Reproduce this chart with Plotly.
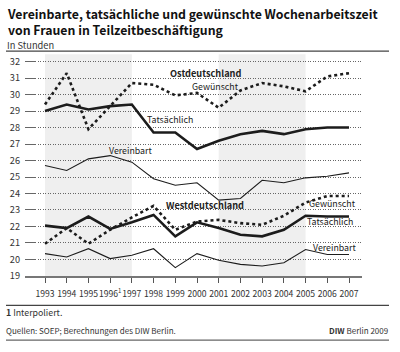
import plotly.graph_objects as go

years = [1993, 1994, 1995, 1996, 1997, 1998, 1999, 2000, 2001, 2002, 2003, 2004, 2005, 2006, 2007]
year_labels = ["1993", "1994", "1995", "1996<sup>1</sup>", "1997", "1998", "1999", "2000",
               "2001", "2002", "2003", "2004", "2005", "2006", "2007"]
y_ticks = [19, 20, 21, 22, 23, 24, 25, 26, 27, 28, 29, 30, 31, 32]

ost_gewuenscht = [29.4, 31.3, 27.9, 29.3, 30.7, 30.6, 29.95, 30.1, 29.2, 30.25, 30.7, 30.5, 30.2, 31.1, 31.3]
ost_tatsaechlich = [29.0, 29.4, 29.1, 29.3, 29.4, 27.7, 27.7, 26.7, 27.2, 27.6, 27.8, 27.6, 27.9, 28.0, 28.0]
ost_vereinbart = [25.7, 25.4, 26.1, 26.3, 25.9, 24.9, 24.5, 24.65, 23.6, 23.7, 24.8, 24.65, 24.95, 25.05, 25.25]
west_gewuenscht = [20.95, 21.9, 20.95, 21.8, 22.55, 23.25, 21.8, 22.3, 22.4, 22.2, 22.1, 22.65, 23.45, 23.85, 23.85]
west_tatsaechlich = [22.05, 21.9, 22.6, 21.85, 22.25, 22.7, 21.4, 22.25, 21.9, 21.5, 21.4, 21.8, 22.65, 22.6, 22.6]
west_vereinbart = [20.35, 20.15, 20.65, 20.05, 20.25, 20.65, 19.5, 20.35, 19.95, 19.7, 19.6, 19.8, 20.6, 20.3, 20.3]

shade_periods = [(1993, 1997), (2001, 2005)]

FONT = "Noto Sans CJK SC, Liberation Sans, sans-serif"
INK = "#1c1c1c"

fig = go.Figure()

series = [
    (ost_gewuenscht, "dot", 2.6),
    (ost_tatsaechlich, "solid", 2.6),
    (ost_vereinbart, "solid", 1.1),
    (west_gewuenscht, "dot", 2.6),
    (west_tatsaechlich, "solid", 2.6),
    (west_vereinbart, "solid", 1.1),
]
for vals, dash, w in series:
    fig.add_trace(go.Scatter(x=years, y=vals, mode="lines",
                             line=dict(color=INK, width=w, dash=dash),
                             showlegend=False, hoverinfo="skip"))

for a, b in shade_periods:
    fig.add_shape(type="rect", xref="x", yref="y", x0=a, x1=b, y0=19, y1=32.45,
                  fillcolor="#efefef", line=dict(width=0), layer="below")

W, H = 400, 352
x_lo = 1993 - 20 / 21.714
x_hi = 2007 + 13 / 21.714
y_lo = 19
y_hi = 32 + (280.7 - 13 * 16.77 - 55) / 16.77

labels = [
    ("Ostdeutschland", 2000.37, 31.33, True),
    ("Gewünscht", 2000.87, 30.47, False),
    ("Tatsächlich", 1998.76, 28.48, False),
    ("Vereinbart", 1996.96, 26.63, False),
    ("Westdeutschland", 2000.35, 23.32, True),
    ("Gewünscht", 2006.26, 23.41, False),
    ("Tatsächlich", 2006.12, 22.32, False),
    ("Vereinbart", 2006.31, 20.73, False),
]
for txt, lx, ly, bold in labels:
    fig.add_annotation(x=lx, y=ly, xref="x", yref="y", showarrow=False, borderpad=0,
                       text=f"<b>{txt}</b>" if bold else txt,
                       font=dict(family=FONT, size=9.2 if bold else 8.8, color="#222"),
                       xanchor="center", yanchor="middle")

def py(p):
    return 1 - p / H

def px(p):
    return p / W

fig.add_annotation(x=px(6), y=py(4), xref="paper", yref="paper", showarrow=False, borderpad=0,
                   text="<b>Vereinbarte, tatsächliche und gewünschte Wochenarbeitszeit</b><br>"
                        "<b>von Frauen in Teilzeitbeschäftigung</b>",
                   font=dict(family=FONT, size=12.3, color="#111"), align="left",
                   xanchor="left", yanchor="top")
fig.add_annotation(x=px(6), y=py(45.5), xref="paper", yref="paper", showarrow=False, borderpad=0,
                   text="In Stunden", font=dict(family=FONT, size=9.3, color="#333"),
                   xanchor="left", yanchor="middle")
fig.add_annotation(x=px(5), y=py(318), xref="paper", yref="paper", showarrow=False, borderpad=0,
                   text="<b>1</b> Interpoliert.", font=dict(family=FONT, size=8.8, color="#333"),
                   xanchor="left", yanchor="middle")
fig.add_annotation(x=px(5), y=py(336), xref="paper", yref="paper", showarrow=False, borderpad=0,
                   text="Quellen: SOEP; Berechnungen des DIW Berlin.",
                   font=dict(family=FONT, size=8, color="#333"), xanchor="left", yanchor="middle")
fig.add_annotation(x=px(389), y=py(336), xref="paper", yref="paper", showarrow=False, borderpad=0,
                   text="<b>DIW</b> Berlin 2009", font=dict(family=FONT, size=8, color="#333"),
                   xanchor="right", yanchor="middle")

for yy, col in [(52, "#444"), (310.7, "#444"), (346, "#666")]:
    fig.add_shape(type="line", xref="paper", yref="paper", x0=px(6), x1=px(389),
                  y0=py(yy), y1=py(yy), line=dict(color=col, width=1.2))

fig.update_layout(
    width=W, height=H,
    margin=dict(l=0, r=0, t=0, b=0),
    paper_bgcolor="white", plot_bgcolor="white",
    xaxis=dict(domain=[px(25), px(362)], range=[x_lo, x_hi],
               tickmode="array", tickvals=years, ticktext=year_labels, tickangle=0,
               ticks="outside", ticklen=5, tickcolor="#555", tickwidth=1,
               ticklabelstandoff=4,
               showline=True, linecolor="#777", linewidth=1.5,
               showgrid=False, zeroline=False,
               tickfont=dict(family=FONT, size=8.6, color="#333")),
    yaxis=dict(domain=[py(280.7), py(55)], range=[y_lo, y_hi],
               tickmode="array", tickvals=y_ticks,
               ticks="inside", ticklen=10, tickcolor="#666", tickwidth=1,
               ticklabelstandoff=4,
               showgrid=True, gridcolor="#666", gridwidth=1, griddash="1px,1.5px",
               showline=False, zeroline=False,
               tickfont=dict(family=FONT, size=9.2, color="#333")),
)

fig.write_html("out.html")
